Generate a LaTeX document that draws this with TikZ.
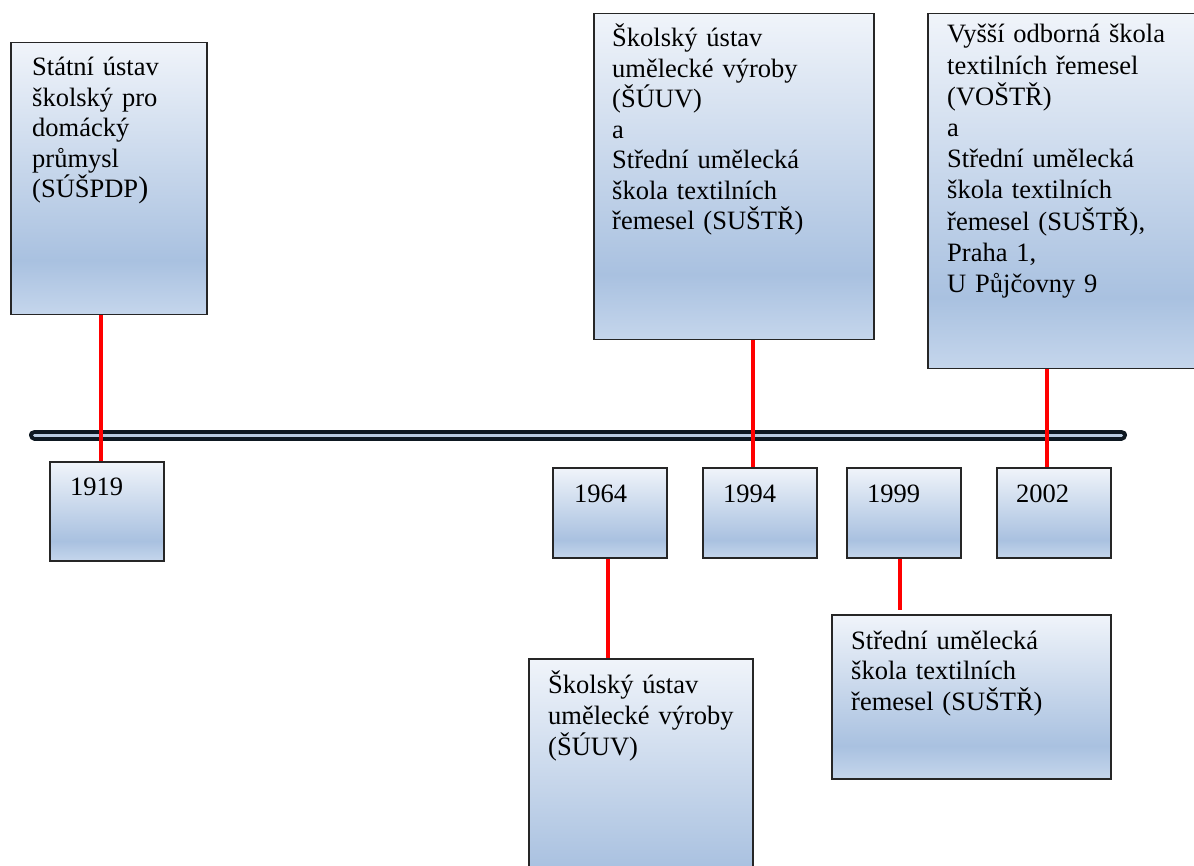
\documentclass[tikz,border=0pt]{standalone}
\usepackage{fontspec}
\setmainfont{Liberation Serif}
\usepackage{tikz}
\usetikzlibrary{positioning}
\definecolor{gTop}{HTML}{F0F4FA}
\definecolor{gMid}{HTML}{A9C1E0}
\definecolor{gBot}{HTML}{C5D6EC}
\definecolor{barDark}{HTML}{0E1821}
\definecolor{barLight}{HTML}{B9CBE0}
\pgfdeclareverticalshading{boxshade}{100bp}{color(0bp)=(gBot); color(25bp)=(gBot);
  color(35bp)=(gMid); color(75bp)=(gTop); color(100bp)=(gTop)}
\tikzset{box/.style={draw=black!85, line width=1.5pt, shading=boxshade,
  anchor=north west, inner sep=0pt}}
\tikzset{yr/.style={box, minimum width=114pt, minimum height=90pt}}
\tikzset{txt/.style={anchor=base west, inner sep=0pt, align=left, text width=260pt,
  font=\fontsize{26.5pt}{30.5pt}\selectfont}}
\tikzset{lnk/.style={draw, red, line width=3.5pt}}
\tikzset{bar/.style={draw=barDark, line width=4pt, double=barLight,
  double distance=3pt, line cap=round}}

\begin{document}
\begin{tikzpicture}[x=1pt, y=-1pt]
        \useasboundingbox (0,0) rectangle (1194,866);
        %% time axis
        \coordinate (t0) at (34.5,435);
        \coordinate (t1) at (1121.5,435);
        \draw [bar] (t0) -- (t1);
        %% boxes above and below the axis
        \node (sA) at (10,42) [box, minimum width=196pt, minimum height=272pt] {};
        \node (sB) at (593,13) [box, minimum width=280pt, minimum height=326pt] {};
        \node (sC) at (927,13) [box, minimum width=275pt, minimum height=355pt] {};
        \node (sD) at (528,658) [box, minimum width=224pt, minimum height=262pt] {};
        \node (sE) at (831,614) [box, minimum width=279pt, minimum height=164pt] {};
        \node (tA) at ([xshift=22pt,yshift=-34pt]sA.north west) [txt]
            {Státní ústav\\školský pro\\domácký\\průmysl\\(SÚŠPDP{\fontsize{30pt}{30pt}\selectfont)}};
        \node (tB) at ([xshift=19pt,yshift=-34pt]sB.north west) [txt]
            {Školský ústav\\umělecké výroby\\(ŠÚUV)\\a\\Střední umělecká\\škola textilních\\řemesel (SUŠTŘ)};
        \node (tC) at ([xshift=20pt,yshift=-30pt]sC.north west) [txt,
            font=\fontsize{26.5pt}{31.2pt}\selectfont]
            {Vyšší odborná škola\\textilních řemesel\\(VOŠTŘ)\\a\\Střední umělecká\\škola textilních\\řemesel (SUŠTŘ),\\Praha 1,\\U Půjčovny 9};
        \node (tD) at ([xshift=20pt,yshift=-35pt]sD.north west) [txt,
            font=\fontsize{26.5pt}{31pt}\selectfont]
            {Školský ústav\\umělecké výroby\\(ŠÚUV)};
        \node (tE) at ([xshift=20pt,yshift=-35pt]sE.north west) [txt]
            {Střední umělecká\\škola textilních\\řemesel (SUŠTŘ)};
        %% years
        \node (y19) at (49,461) [yr, minimum height=99pt] {};
        \node (y64) at (552,467) [yr] {};
        \node (y94) at (702,467) [yr] {};
        \node (y99) at (846,467) [yr] {};
        \node (y02) at (996,467) [yr] {};
        \node (n19) at ([xshift=21pt,yshift=-34pt]y19.north west) [txt] {1919};
        \node (n64) at ([xshift=22pt,yshift=-35pt]y64.north west) [txt] {1964};
        \node (n94) at ([xshift=21pt,yshift=-35pt]y94.north west) [txt] {1994};
        \node (n99) at ([xshift=21pt,yshift=-35pt]y99.north west) [txt] {1999};
        \node (n02) at ([xshift=20pt,yshift=-35pt]y02.north west) [txt] {2002};
        %% red links
        \draw [lnk] ([xshift=-8pt]sA.south) -- ([xshift=-8pt]sA.south |- y19.north);
        \draw [lnk] ([xshift=-7pt]y94.north) -- ([xshift=-7pt]y94.north |- sB.south);
        \draw [lnk] ([xshift=-7pt]y02.north) -- ([xshift=-7pt]y02.north |- sC.south);
        \draw [lnk] ([xshift=-2pt]y64.south) -- ([xshift=-2pt]y64.south |- sD.north);
        \draw [lnk, shorten >=4pt] ([xshift=-4pt]y99.south) -- ([xshift=-4pt]y99.south |- sE.north);
\end{tikzpicture}
\end{document}
